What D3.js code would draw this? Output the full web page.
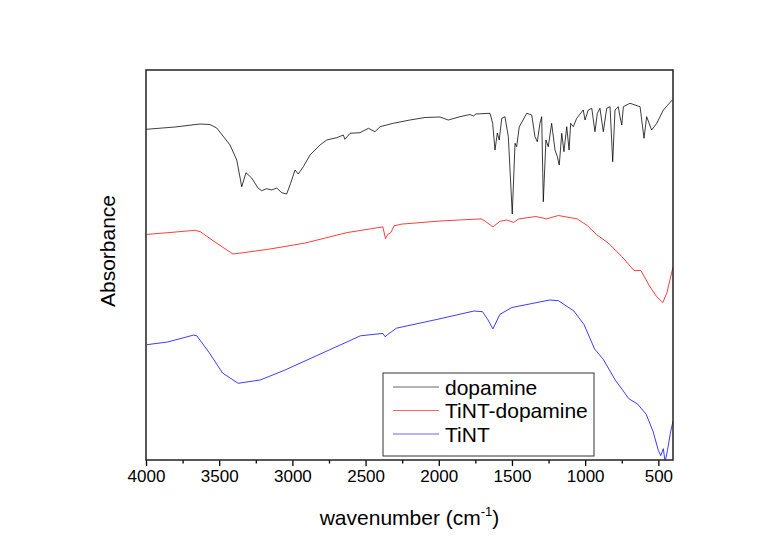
<!DOCTYPE html>
<html>
<head>
<meta charset="utf-8">
<script src="https://cdn.jsdelivr.net/npm/d3@7"></script>
<style>
  body { margin: 0; background: #fff; }
  svg { font-family: "Liberation Sans", Arial, sans-serif; }
</style>
</head>
<body>
<div id="chart"></div>
<script>
// FTIR spectra, [wavenumber (cm-1), absorbance (a.u., offset)]
const dopamine = [
  [4000, 3.307], [3802, 3.33], [3631, 3.36], [3563, 3.355], [3517, 3.32], [3426, 3.15],
  [3380, 3.00], [3346, 2.733], [3317, 2.873], [3278, 2.82], [3235, 2.72], [3210, 2.693],
  [3176, 2.713], [3141, 2.70], [3107, 2.72], [3073, 2.673], [3039, 2.66], [3012, 2.767],
  [2982, 2.90], [2960, 2.86], [2925, 2.933], [2880, 3.05], [2811, 3.15], [2766, 3.20],
  [2697, 3.223], [2652, 3.25], [2641, 3.207], [2606, 3.267], [2538, 3.273], [2481, 3.317],
  [2436, 3.283], [2401, 3.333], [2311, 3.367], [2197, 3.40], [2094, 3.425], [1992, 3.43],
  [1935, 3.40], [1855, 3.433], [1787, 3.455], [1764, 3.44], [1746, 3.46], [1650, 3.467],
  [1632, 3.367], [1616, 3.10], [1600, 3.27], [1587, 3.20], [1570, 3.417], [1548, 3.433],
  [1525, 3.233], [1498, 2.46], [1479, 3.167], [1468, 3.133], [1450, 3.333], [1399, 3.467],
  [1365, 3.45], [1343, 3.233], [1327, 3.183], [1309, 3.367], [1297, 3.433], [1286, 2.583],
  [1268, 3.20], [1252, 3.133], [1229, 3.367], [1206, 3.10], [1190, 3.033], [1177, 2.95],
  [1160, 3.267], [1145, 3.083], [1126, 3.333], [1110, 3.10], [1099, 3.367], [1081, 3.333],
  [1058, 3.417], [1013, 3.50], [1001, 3.40], [979, 3.50], [955, 3.517], [933, 3.283],
  [917, 3.467], [899, 3.517], [876, 3.283], [853, 3.517], [830, 3.533], [812, 2.983],
  [796, 3.50], [774, 3.533], [762, 3.433], [750, 3.35], [739, 3.533], [694, 3.567],
  [625, 3.533], [598, 3.217], [580, 3.433], [546, 3.30], [511, 3.367], [466, 3.50], [405, 3.60]
];
const tintDopamine = [
  [3994, 2.256], [3836, 2.275], [3665, 2.297], [3629, 2.283], [3529, 2.18], [3406, 2.06],
  [3335, 2.073], [3153, 2.11], [2912, 2.17], [2630, 2.273], [2382, 2.331], [2364, 2.214],
  [2348, 2.256], [2328, 2.273], [2305, 2.342], [2253, 2.359], [1992, 2.39], [1712, 2.411],
  [1688, 2.393], [1630, 2.331], [1583, 2.387], [1536, 2.40], [1489, 2.376], [1453, 2.411],
  [1336, 2.435], [1265, 2.411], [1183, 2.445], [1054, 2.411], [983, 2.342], [924, 2.256],
  [842, 2.17], [748, 2.032], [666, 1.894], [619, 1.894], [560, 1.739], [513, 1.636],
  [470, 1.574], [442, 1.67], [400, 1.929]
];
const tint = [
  [3994, 1.153], [3853, 1.18], [3676, 1.249], [3653, 1.242], [3570, 1.077], [3477, 0.87],
  [3371, 0.767], [3218, 0.801], [3053, 0.898], [2794, 1.07], [2535, 1.242], [2382, 1.266],
  [2366, 1.232], [2348, 1.256], [2289, 1.318], [2018, 1.404], [1759, 1.49], [1701, 1.483],
  [1665, 1.404], [1630, 1.311], [1583, 1.456], [1501, 1.525], [1383, 1.559], [1242, 1.60],
  [1183, 1.593], [1077, 1.49], [1007, 1.352], [936, 1.111], [877, 1.008], [795, 0.801],
  [701, 0.612], [642, 0.56], [583, 0.457], [536, 0.285], [500, 0.095], [484, 0.044],
  [466, 0.113], [454, -0.02], [438, 0.095], [418, 0.268], [400, 0.39]
];

const seriesNames = ['dopamine', 'TiNT-dopamine', 'TiNT'];
const seriesColors = ['#000000', '#ff0000', '#0000ff'];
const majorTicks = [4000, 3500, 3000, 2500, 2000, 1500, 1000, 500];
const minorTicks = [3750, 3250, 2750, 2250, 1750, 1250, 750];

const width = 764, height = 540;
const margin = { left: 146, right: 91, top: 70, bottom: 80 };

const svg = d3.select('#chart').append('svg')
  .attr('width', width)
  .attr('height', height);

const x = d3.scaleLinear().domain([4000, 400]).range([margin.left, width - margin.right]);
const y = d3.scaleLinear().domain([0, 3.9]).range([height - margin.bottom, margin.top]);

svg.append('clipPath').attr('id', 'plot-clip')
  .append('rect')
  .attr('x', margin.left).attr('y', margin.top)
  .attr('width', x.range()[1] - x.range()[0])
  .attr('height', y.range()[0] - y.range()[1]);

// spectra
const line = d3.line().x(d => x(d[0])).y(d => y(d[1]));
const g = svg.append('g').attr('clip-path', 'url(#plot-clip)');
[dopamine, tintDopamine, tint].forEach((s, i) => {
  g.append('path')
    .datum(s)
    .attr('fill', 'none')
    .attr('stroke', seriesColors[i])
    .attr('stroke-width', 0.9)
    .attr('stroke-opacity', 0.85)
    .attr('d', line);
});

// bottom axis: major + minor ticks
const xAxis = svg.append('g')
  .attr('transform', `translate(0,${y.range()[0]})`)
  .call(d3.axisBottom(x).tickValues(majorTicks).tickSize(6).tickPadding(4).tickFormat(d3.format('d')));
xAxis.select('.domain').remove();
xAxis.selectAll('.tick line').attr('stroke', '#000').attr('stroke-width', 1.3);
xAxis.selectAll('.tick text').attr('font-size', 17).attr('fill', '#000')
  .attr('font-family', '"Liberation Sans", Arial, sans-serif');

const xMinor = svg.append('g')
  .attr('transform', `translate(0,${y.range()[0]})`)
  .call(d3.axisBottom(x).tickValues(minorTicks).tickSize(3.5).tickFormat(''));
xMinor.select('.domain').remove();
xMinor.selectAll('.tick line').attr('stroke', '#000').attr('stroke-width', 1.3);

// frame
svg.append('rect')
  .attr('x', margin.left).attr('y', margin.top)
  .attr('width', x.range()[1] - x.range()[0])
  .attr('height', y.range()[0] - y.range()[1])
  .attr('fill', 'none')
  .attr('stroke', '#222')
  .attr('stroke-width', 1.5);

// axis titles
const xt = svg.append('text')
  .attr('x', (x.range()[0] + x.range()[1]) / 2)
  .attr('y', 525)
  .attr('text-anchor', 'middle')
  .attr('font-size', 21)
  .attr('fill', '#000');
xt.append('tspan').text('wavenumber (cm');
xt.append('tspan').attr('font-size', 13).attr('dy', -9).text('-1');
xt.append('tspan').attr('dy', 9).text(')');

svg.append('text')
  .attr('transform', 'translate(115,251) rotate(-90)')
  .attr('text-anchor', 'middle')
  .attr('font-size', 21)
  .attr('fill', '#000')
  .text('Absorbance');

// legend
const lg = svg.append('g').attr('transform', 'translate(383,373)');
lg.append('rect')
  .attr('width', 211).attr('height', 83)
  .attr('fill', '#fff')
  .attr('stroke', '#333')
  .attr('stroke-width', 1);
seriesNames.forEach((name, i) => {
  const yy = 14 + i * 23.5;
  lg.append('line')
    .attr('x1', 10).attr('x2', 56)
    .attr('y1', yy).attr('y2', yy)
    .attr('stroke', seriesColors[i])
    .attr('stroke-width', 1)
    .attr('stroke-opacity', 0.6);
  lg.append('text')
    .attr('x', 62).attr('y', yy + 7.5)
    .attr('font-size', 21)
    .attr('fill', '#000')
    .text(name);
});
</script>
</body>
</html>
